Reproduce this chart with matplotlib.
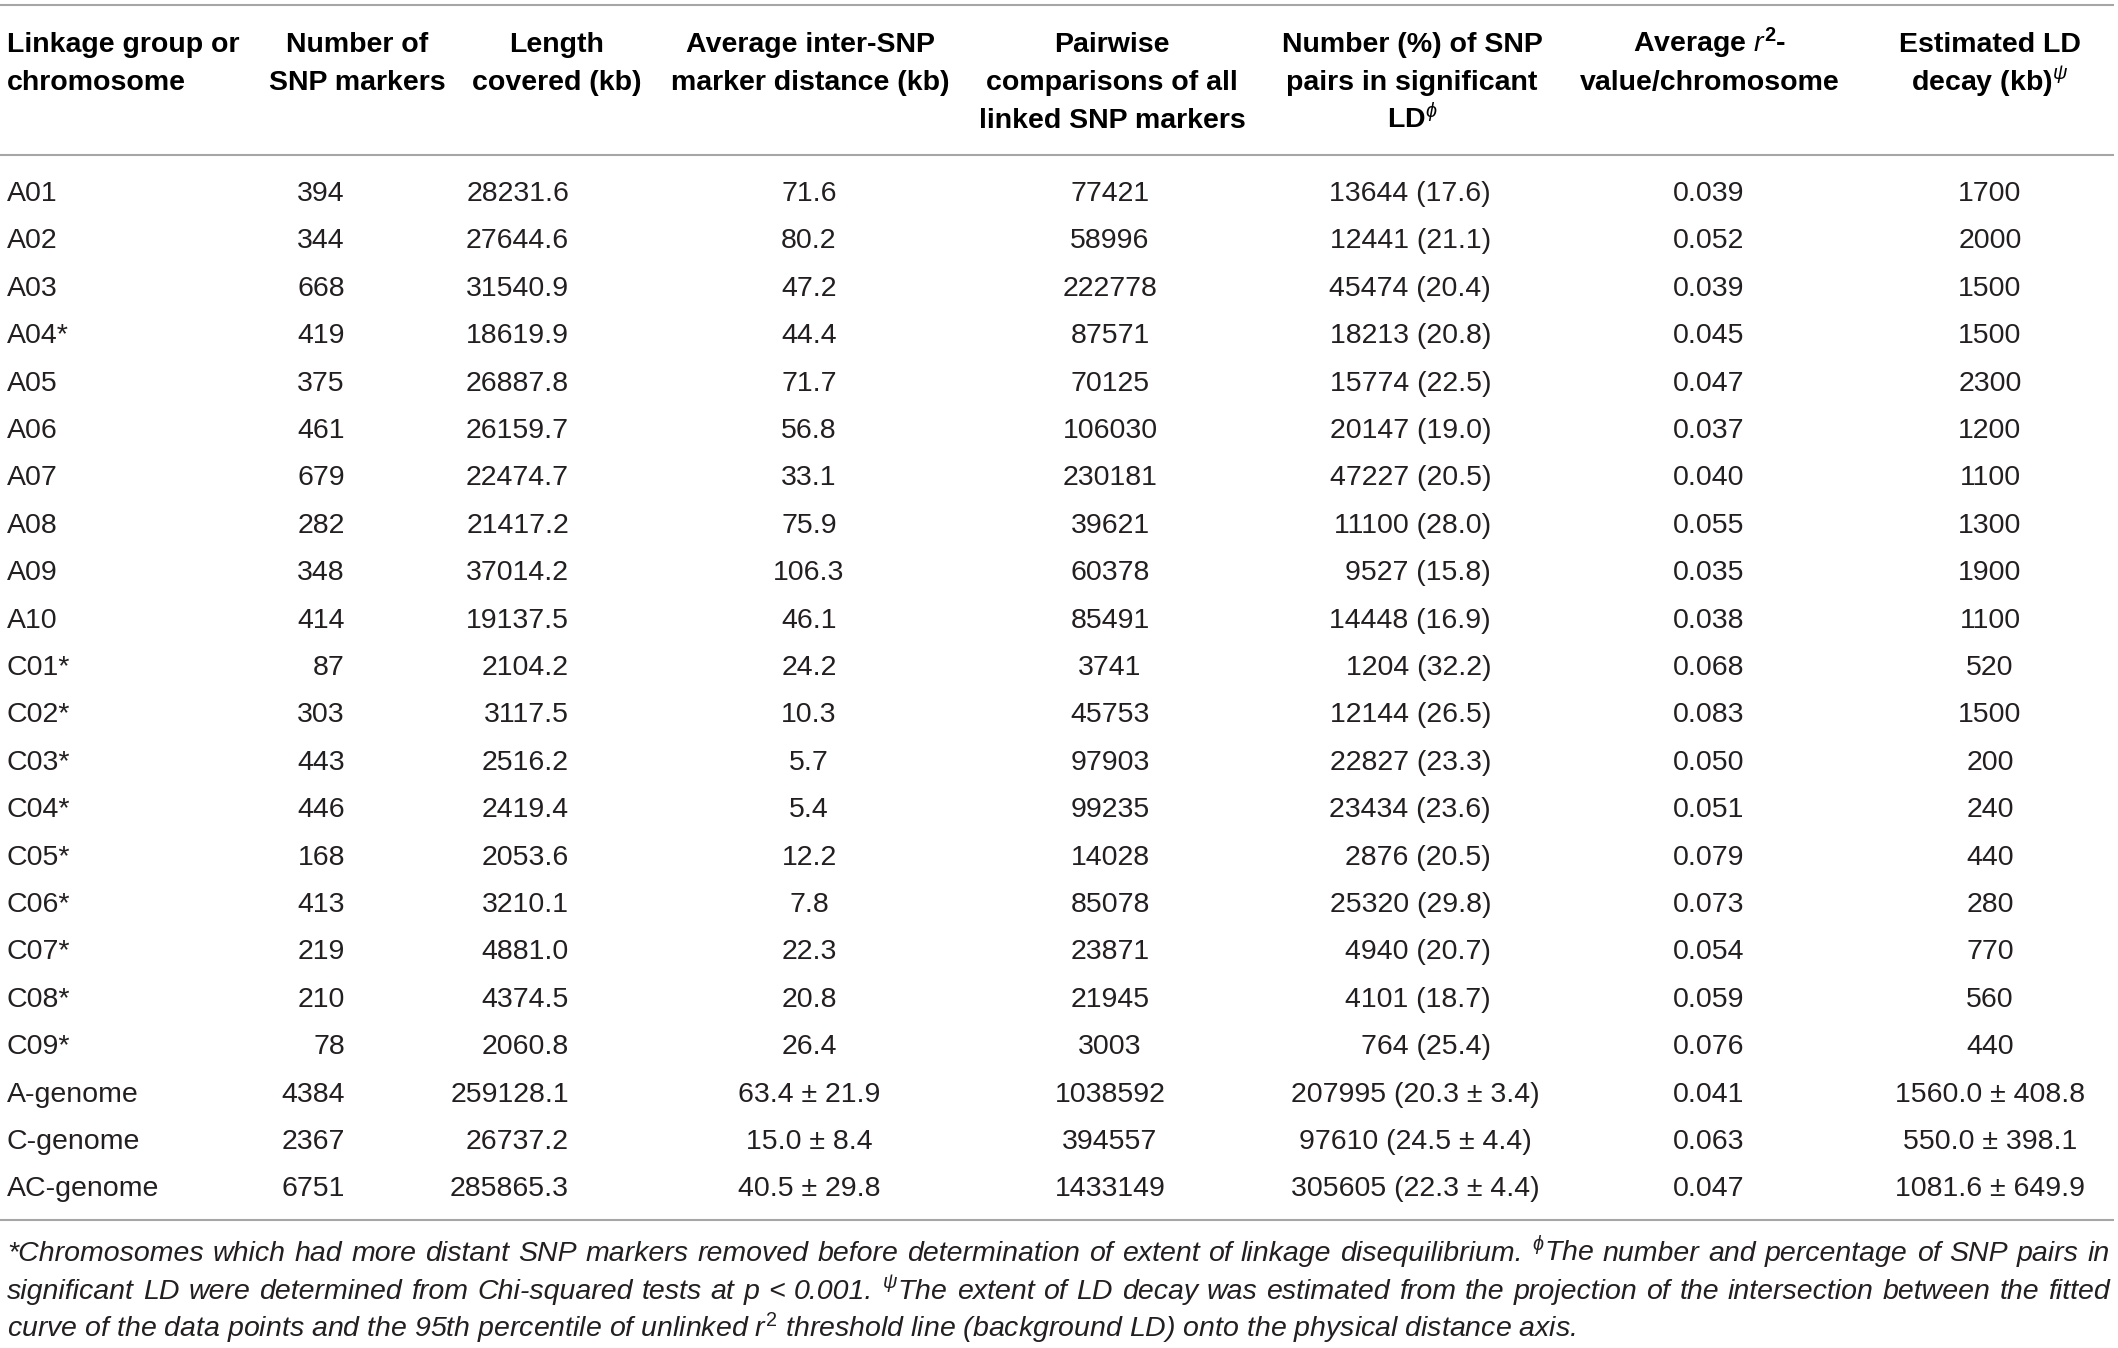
import matplotlib
matplotlib.use("Agg")
import matplotlib.pyplot as plt

plt.rcParams['font.family'] = ['Liberation Sans', 'DejaVu Sans']
plt.rcParams['mathtext.fontset'] = 'custom'
plt.rcParams['mathtext.rm'] = 'Liberation Sans'
plt.rcParams['mathtext.it'] = 'Liberation Sans:italic'
plt.rcParams['mathtext.bf'] = 'Liberation Sans:bold'

# table data
chromosomes = ['A01', 'A02', 'A03', 'A04*', 'A05', 'A06', 'A07', 'A08', 'A09', 'A10',
               'C01*', 'C02*', 'C03*', 'C04*', 'C05*', 'C06*', 'C07*', 'C08*', 'C09*']
genomes = ['A-genome', 'C-genome', 'AC-genome']

n_markers = [394, 344, 668, 419, 375, 461, 679, 282, 348, 414,
             87, 303, 443, 446, 168, 413, 219, 210, 78]
length_kb = [28231.6, 27644.6, 31540.9, 18619.9, 26887.8, 26159.7, 22474.7, 21417.2, 37014.2, 19137.5,
             2104.2, 3117.5, 2516.2, 2419.4, 2053.6, 3210.1, 4881.0, 4374.5, 2060.8]
avg_dist = [71.6, 80.2, 47.2, 44.4, 71.7, 56.8, 33.1, 75.9, 106.3, 46.1,
            24.2, 10.3, 5.7, 5.4, 12.2, 7.8, 22.3, 20.8, 26.4]
pairwise = [77421, 58996, 222778, 87571, 70125, 106030, 230181, 39621, 60378, 85491,
            3741, 45753, 97903, 99235, 14028, 85078, 23871, 21945, 3003]
sig_pairs = [13644, 12441, 45474, 18213, 15774, 20147, 47227, 11100, 9527, 14448,
             1204, 12144, 22827, 23434, 2876, 25320, 4940, 4101, 764]
sig_pct = [17.6, 21.1, 20.4, 20.8, 22.5, 19.0, 20.5, 28.0, 15.8, 16.9,
           32.2, 26.5, 23.3, 23.6, 20.5, 29.8, 20.7, 18.7, 25.4]
r2 = [0.039, 0.052, 0.039, 0.045, 0.047, 0.037, 0.040, 0.055, 0.035, 0.038,
      0.068, 0.083, 0.050, 0.051, 0.079, 0.073, 0.054, 0.059, 0.076]
ld_decay = [1700, 2000, 1500, 1500, 2300, 1200, 1100, 1300, 1900, 1100,
            520, 1500, 200, 240, 440, 280, 770, 560, 440]

# summary rows
g_markers = [4384, 2367, 6751]
g_length = [259128.1, 26737.2, 285865.3]
g_dist = [63.4, 15.0, 40.5]
g_dist_sd = [21.9, 8.4, 29.8]
g_pairwise = [1038592, 394557, 1433149]
g_sig = [207995, 97610, 305605]
g_pct = [20.3, 24.5, 22.3]
g_pct_sd = [3.4, 4.4, 4.4]
g_r2 = [0.041, 0.063, 0.047]
g_decay = [1560.0, 550.0, 1081.6]
g_decay_sd = [408.8, 398.1, 649.9]

headers = [
    ['Linkage group or', 'chromosome'],
    ['Number of', 'SNP markers'],
    ['Length', 'covered (kb)'],
    ['Average inter-SNP', 'marker distance (kb)'],
    ['Pairwise', 'comparisons of all', 'linked SNP markers'],
    ['Number (%) of SNP', 'pairs in significant', r'LD$^{\phi}$'],
    [r'Average $r^{\mathbf{2}}$-', 'value/chromosome'],
    ['Estimated LD', r'decay (kb)$^{\psi}$'],
]

footnotes = [
    '*Chromosomes which had more distant SNP markers removed before determination of extent of linkage disequilibrium. '
    r'$^{\phi}$The number and percentage of SNP pairs in',
    'significant LD were determined from Chi-squared tests at p < 0.001. '
    r'$^{\psi}$The extent of LD decay was estimated from the projection of the intersection between the fitted',
    r'curve of the data points and the 95th percentile of unlinked $r^2$ threshold line (background LD) onto the physical distance axis.',
]

W, H = 2118, 1348
fig = plt.figure(figsize=(W / 100, H / 100), dpi=100)
ax = fig.add_axes([0, 0, 1, 1])
ax.set_xlim(0, W)
ax.set_ylim(H, 0)
ax.axis('off')

FS = 20.5
TXT = '#231f20'
RULE = '#a6a6a6'

# column anchors: (header x, value x, value alignment)
cols = [(7, 7, 'left'), (357, 345, 'right'), (557, 569, 'right'), (810, 809, 'center'),
        (1112, 1110, 'center'), (1412, 1491, 'right'), (1710, 1709, 'center'), (1990, 1990, 'center')]

for (hx, vx, ha), lines in zip(cols, headers):
    hh = 'left' if ha == 'left' else 'center'
    for k, line in enumerate(lines):
        ax.text(hx, 52 + k * 38, line, ha=hh, va='baseline', fontsize=FS,
                fontweight='bold', color='black')

for y in (5, 155, 1220):
    ax.plot([0, 2114], [y, y], color=RULE, lw=1.5, solid_capstyle='butt')

row_y0 = 201
row_dy = 47.4

for i, name in enumerate(chromosomes):
    y = row_y0 + i * row_dy
    vals = [name, str(n_markers[i]), '%.1f' % length_kb[i], '%.1f' % avg_dist[i],
            str(pairwise[i]), '%d (%.1f)' % (sig_pairs[i], sig_pct[i]),
            '%.3f' % r2[i], str(ld_decay[i])]
    for (hx, vx, ha), v in zip(cols, vals):
        ax.text(vx, y, v, ha=ha, va='baseline', fontsize=FS, color=TXT)

for j, name in enumerate(genomes):
    y = row_y0 + (len(chromosomes) + j) * row_dy
    vals = [name, str(g_markers[j]), '%.1f' % g_length[j],
            '%.1f \u00b1 %.1f' % (g_dist[j], g_dist_sd[j]), str(g_pairwise[j]),
            '%d (%.1f \u00b1 %.1f)' % (g_sig[j], g_pct[j], g_pct_sd[j]),
            '%.3f' % g_r2[j], '%.1f \u00b1 %.1f' % (g_decay[j], g_decay_sd[j])]
    for c, ((hx, vx, ha), v) in enumerate(zip(cols, vals)):
        x = vx
        if c == 5:
            x, ha = 1415, 'center'
        ax.text(x, y, v, ha=ha, va='baseline', fontsize=FS, color=TXT)

# footnote: first two lines justified to the table width, last line left aligned
renderer = fig.canvas.get_renderer()
left, right = 7, 2110
for k, line in enumerate(footnotes):
    y = 1261 + k * 38
    if k == len(footnotes) - 1:
        ax.text(left, y, line, ha='left', va='baseline', fontsize=FS,
                fontstyle='italic', color=TXT)
        continue
    words = []
    for w in line.split(' '):
        if words and w.startswith('$') is False and words[-1].count('$') % 2 == 1:
            words[-1] += ' ' + w
        else:
            words.append(w)
    arts = [ax.text(0, y, w, ha='left', va='baseline', fontsize=FS,
                    fontstyle='italic', color=TXT) for w in words]
    widths = [a.get_window_extent(renderer).width for a in arts]
    gap = (right - left - sum(widths)) / (len(words) - 1)
    x = left
    for a, wd in zip(arts, widths):
        a.set_x(x)
        x += wd + gap

fig.savefig('out.png', dpi=100)
